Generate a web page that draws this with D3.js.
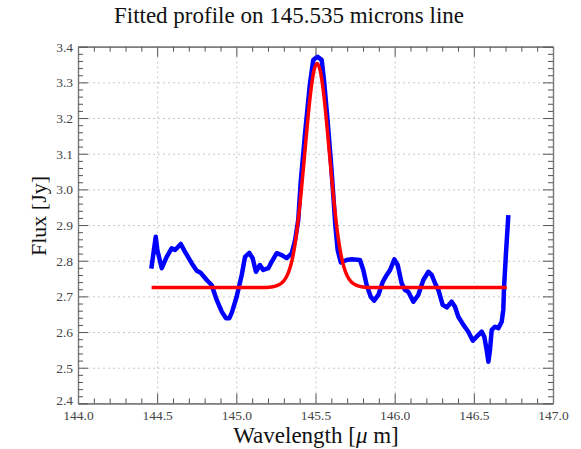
<!DOCTYPE html>
<html>
<head>
<meta charset="utf-8">
<script src="https://cdn.jsdelivr.net/npm/d3@7/dist/d3.min.js"></script>
<style>
  html, body { margin: 0; padding: 0; background: #fff; }
  svg { display: block; }
  text { font-family: "Liberation Serif", "Times New Roman", serif; }
</style>
</head>
<body>
<svg id="chart" width="581" height="449"></svg>
<script>
// Observed spectrum around the 145.5 micron line
const obsWavelength = [
  144.463, 144.491, 144.501, 144.529, 144.560, 144.592, 144.613, 144.649, 144.676,
  144.718, 144.750, 144.775, 144.813, 144.844, 144.876, 144.908, 144.935, 144.956,
  144.972, 145.002, 145.034, 145.055, 145.082, 145.103, 145.124, 145.149, 145.170,
  145.202, 145.223, 145.255, 145.287, 145.318, 145.350, 145.371, 145.391, 145.406,
  145.434, 145.465, 145.486, 145.511, 145.539, 145.555, 145.575, 145.597, 145.613,
  145.625, 145.640, 145.660, 145.697, 145.729, 145.781, 145.802, 145.823, 145.849,
  145.870, 145.897, 145.925, 145.950, 145.971, 145.998, 146.019, 146.044, 146.065,
  146.086, 146.118, 146.149, 146.181, 146.213, 146.234, 146.255, 146.276, 146.303,
  146.329, 146.360, 146.381, 146.402, 146.434, 146.465, 146.493, 146.518, 146.550,
  146.566, 146.581, 146.592, 146.602, 146.613, 146.634, 146.655, 146.676, 146.686,
  146.691, 146.703, 146.718
];
const obsFlux = [
  2.778, 2.867, 2.830, 2.779, 2.811, 2.835, 2.830, 2.847, 2.825,
  2.793, 2.772, 2.766, 2.746, 2.732, 2.690, 2.657, 2.639, 2.639,
  2.655, 2.699, 2.760, 2.811, 2.822, 2.807, 2.769, 2.788, 2.774,
  2.779, 2.797, 2.821, 2.816, 2.807, 2.821, 2.858, 2.914, 3.017,
  3.157, 3.297, 3.363, 3.372, 3.363, 3.300, 3.200, 3.080, 2.980,
  2.900, 2.830, 2.795, 2.802, 2.804, 2.802, 2.774, 2.732, 2.699,
  2.688, 2.704, 2.741, 2.760, 2.774, 2.804, 2.788, 2.737, 2.718,
  2.713, 2.685, 2.704, 2.746, 2.769, 2.760, 2.737, 2.718, 2.676,
  2.669, 2.685, 2.671, 2.643, 2.620, 2.601, 2.576, 2.587, 2.601,
  2.587, 2.550, 2.517, 2.550, 2.606, 2.615, 2.611, 2.629, 2.662,
  2.727, 2.821, 2.928
];

// Fitted line profile (continuum plus emission line)
const fitWavelength = [
  144.465, 145.100, 145.190, 145.230, 145.260, 145.290, 145.310, 145.330, 145.350,
  145.370, 145.390, 145.410, 145.430, 145.450, 145.470, 145.490, 145.510, 145.530,
  145.550, 145.570, 145.590, 145.610, 145.630, 145.650, 145.670, 145.690, 145.710,
  145.730, 145.760, 145.790, 145.830, 145.920, 146.708
];
const fitFlux = [
  2.725, 2.725, 2.725, 2.727, 2.731, 2.739, 2.750, 2.768, 2.798,
  2.845, 2.911, 2.995, 3.091, 3.189, 3.274, 3.332, 3.353, 3.332,
  3.274, 3.189, 3.091, 2.995, 2.911, 2.845, 2.798, 2.768, 2.750,
  2.739, 2.731, 2.727, 2.725, 2.725, 2.725
];

// Axis ticks
const xMajorTicks = [144.0, 144.5, 145.0, 145.5, 146.0, 146.5, 147.0];
const yMajorTicks = [2.4, 2.5, 2.6, 2.7, 2.8, 2.9, 3.0, 3.1, 3.2, 3.3, 3.4];

const chartTitle = "Fitted profile on 145.535 microns line";
const xTitle = "Wavelength [";
const yTitle = "Flux [Jy]";

const svg = d3.select("#chart");
const plot = { left: 78, right: 553, top: 46.7, bottom: 403.4 };
const x = d3.scaleLinear().domain([144, 147]).range([plot.left, plot.right]);
const y = d3.scaleLinear().domain([2.4, 3.4]).range([plot.bottom, plot.top]);
const pw = plot.right - plot.left, ph = plot.bottom - plot.top;

const xMinor = d3.range(1441, 1470).map(v => v / 10).filter(v => Math.abs(v * 2 - Math.round(v * 2)) > 1e-6);
const yMinor = d3.range(120, 171).map(v => v / 50).filter(v => Math.abs(v * 10 - Math.round(v * 10)) > 1e-6);

// Dotted grid at major ticks
const grid = svg.append("g").attr("class", "grid");
grid.append("g").attr("transform", `translate(0,${plot.bottom})`)
  .call(d3.axisBottom(x).tickValues(xMajorTicks.slice(1, -1)).tickSize(-ph).tickFormat(""));
grid.append("g").attr("transform", `translate(${plot.left},0)`)
  .call(d3.axisLeft(y).tickValues(yMajorTicks.slice(1, -1)).tickSize(-pw).tickFormat(""));
grid.selectAll(".domain").remove();
grid.selectAll("line").attr("stroke", "#c8c8c8").attr("stroke-width", 1).attr("stroke-dasharray", "2,3");

// Data lines
const lineObs = d3.line().x((d, i) => x(obsWavelength[i])).y(d => y(d));
svg.append("path").datum(obsFlux)
  .attr("d", lineObs)
  .attr("fill", "none").attr("stroke", "#0000ff").attr("stroke-width", 4.5)
  .attr("stroke-linejoin", "round").attr("stroke-linecap", "butt");

const lineFit = d3.line().curve(d3.curveMonotoneX).x((d, i) => x(fitWavelength[i])).y(d => y(d));
svg.append("path").datum(fitFlux)
  .attr("d", lineFit)
  .attr("fill", "none").attr("stroke", "#ff0000").attr("stroke-width", 3.5)
  .attr("stroke-linejoin", "round");

// Frame with inward ticks on all four sides
function styleAxis(g) {
  g.select(".domain").attr("stroke", "#777").attr("stroke-width", 1.2);
  g.selectAll(".tick line").attr("stroke", "#555").attr("stroke-width", 1);
}
const fmt = d3.format(".1f");
const axes = svg.append("g");
const bottomMajor = axes.append("g").attr("transform", `translate(0,${plot.bottom})`)
  .call(d3.axisBottom(x).tickValues(xMajorTicks).tickSize(-10).tickSizeOuter(0).tickPadding(7).tickFormat(fmt));
axes.append("g").attr("transform", `translate(0,${plot.bottom})`)
  .call(d3.axisBottom(x).tickValues(xMinor).tickSize(-5).tickSizeOuter(0).tickFormat("")).call(styleAxis);
axes.append("g").attr("transform", `translate(0,${plot.top})`)
  .call(d3.axisTop(x).tickValues(xMajorTicks).tickSize(-10).tickSizeOuter(0).tickFormat("")).call(styleAxis);
axes.append("g").attr("transform", `translate(0,${plot.top})`)
  .call(d3.axisTop(x).tickValues(xMinor).tickSize(-5).tickSizeOuter(0).tickFormat("")).call(styleAxis);
const leftMajor = axes.append("g").attr("transform", `translate(${plot.left},0)`)
  .call(d3.axisLeft(y).tickValues(yMajorTicks).tickSize(-10).tickSizeOuter(0).tickPadding(5).tickFormat(fmt));
axes.append("g").attr("transform", `translate(${plot.left},0)`)
  .call(d3.axisLeft(y).tickValues(yMinor).tickSize(-5).tickSizeOuter(0).tickFormat("")).call(styleAxis);
axes.append("g").attr("transform", `translate(${plot.right},0)`)
  .call(d3.axisRight(y).tickValues(yMajorTicks).tickSize(-10).tickSizeOuter(0).tickFormat("")).call(styleAxis);
axes.append("g").attr("transform", `translate(${plot.right},0)`)
  .call(d3.axisRight(y).tickValues(yMinor).tickSize(-5).tickSizeOuter(0).tickFormat("")).call(styleAxis);
bottomMajor.call(styleAxis);
leftMajor.call(styleAxis);
axes.selectAll(".tick text")
  .attr("font-family", "'Liberation Serif', serif").attr("font-size", 13.5).attr("fill", "#444");
// lift the lowest y label a touch so it clears the corner x label
leftMajor.selectAll(".tick text").filter(d => d === 2.4).attr("dy", "0.1em");

// Titles
svg.append("text").attr("x", 289).attr("y", 23).attr("text-anchor", "middle")
  .attr("font-size", 23).attr("fill", "#111").text(chartTitle);

const xt = svg.append("text").attr("x", 316).attr("y", 443).attr("text-anchor", "middle")
  .attr("font-size", 23).attr("fill", "#111");
xt.append("tspan").text(xTitle);
xt.append("tspan").attr("font-style", "italic").text("\u03bc");
xt.append("tspan").text(" m]");

svg.append("text").attr("transform", "translate(46,216) rotate(-90)").attr("text-anchor", "middle")
  .attr("font-size", 22).attr("fill", "#111").text(yTitle);
</script>
</body>
</html>
